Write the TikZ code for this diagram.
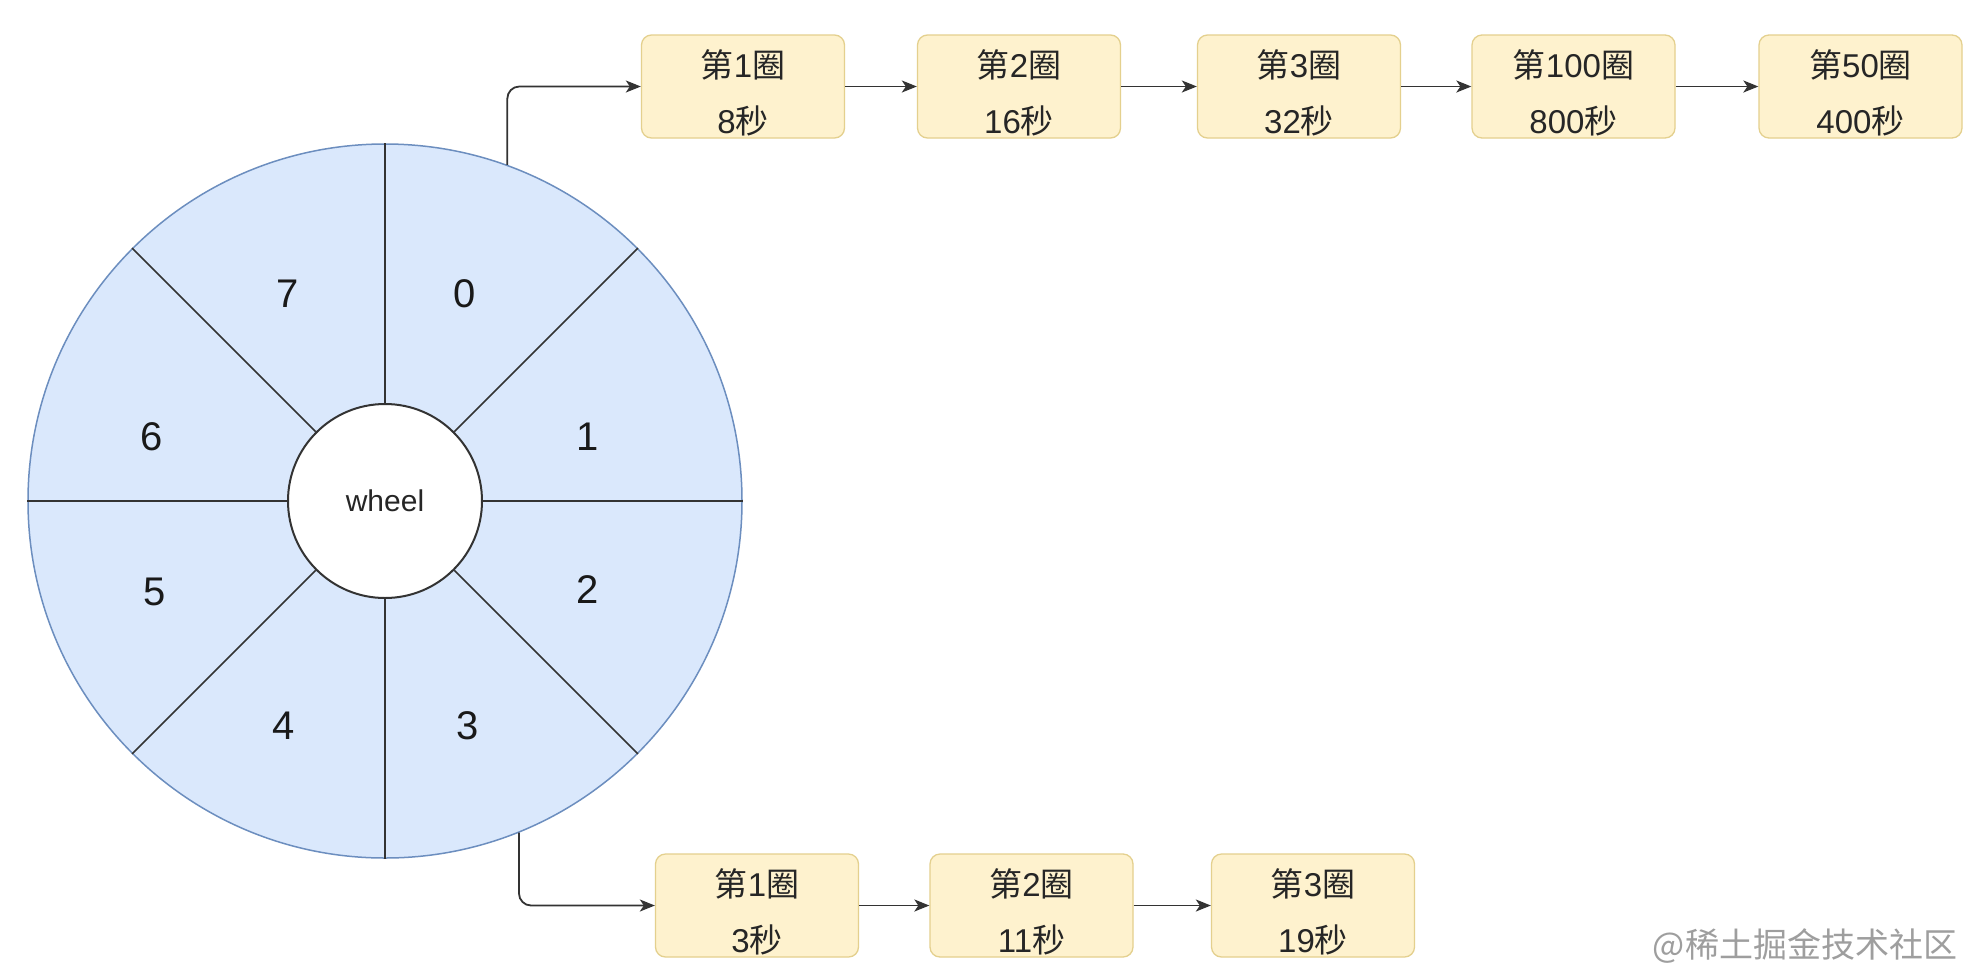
\documentclass[tikz,border=0pt]{standalone}
\usepackage{fontspec}
\setmainfont{Liberation Sans}
\newfontfamily\cjk{Noto Sans CJK SC}
\newcommand\myzh[1]{{\cjk #1}}
\usetikzlibrary{arrows.meta,calc}
\definecolor{wheelfill}{HTML}{DAE8FC}
\definecolor{wheelline}{HTML}{6C8EBF}
\definecolor{darkline}{HTML}{333333}
\definecolor{boxfill}{HTML}{FEF2CE}
\definecolor{boxline}{HTML}{E4D08E}
\definecolor{markgray}{HTML}{9E9E9E}
\tikzset{
  spoke/.style={draw=darkline, line width=1.6pt},
  digit/.style={font=\fontsize{40}{48}\selectfont, text=black!90},
  boxnode/.style={rectangle, rounded corners=10pt, draw=boxline, fill=boxfill,
    line width=1.3pt, minimum width=203pt, minimum height=103pt},
  boxtext/.style={align=center, font=\fontsize{33}{56}\selectfont, text=black!85, inner sep=0pt},
  arr/.style={draw=darkline, line width=1.8pt, -{Stealth[length=15pt,width=12pt,inset=4pt]}},
}
\begin{document}
\begin{tikzpicture}[x=1pt,y=-1pt]
\useasboundingbox (0,0) rectangle (1984,978);
\fill[white] (0,0) rectangle (1984,978);

% wheel
\node[circle, minimum size=714pt, inner sep=0pt, draw=wheelline, fill=wheelfill, line width=1.5pt] (outer) at (385,501) {};
\node[circle, minimum size=194pt, inner sep=0pt, draw=darkline, fill=white, line width=2pt,
      font=\fontsize{30}{36}\selectfont, text=black!85] (inner) at (385,501) {wheel};
\foreach \a in {0,45,...,315} \draw[spoke] (inner.\a) -- (outer.\a);

\node[digit] (d0) at (465,294) {0};
\node[digit] (d1) at (588,437) {1};
\node[digit] (d2) at (588,590) {2};
\node[digit] (d3) at (468,726) {3};
\node[digit] (d4) at (284,726) {4};
\node[digit] (d5) at (155,592) {5};
\node[digit] (d6) at (152,437) {6};
\node[digit] (d7) at (288,294) {7};

% top row
\node[boxnode] (t1) at (743,86.5) {};
\node[boxnode] (t2) at (1019,86.5) {};
\node[boxnode] (t3) at (1299,86.5) {};
\node[boxnode] (t4) at (1573.5,86.5) {};
\node[boxnode] (t5) at (1860.5,86.5) {};
\node[boxtext] (t1x) at (743,92.5) {\myzh{第}1\myzh{圈}\\8\myzh{秒}};
\node[boxtext] (t2x) at (1019,92.5) {\myzh{第}2\myzh{圈}\\16\myzh{秒}};
\node[boxtext] (t3x) at (1299,92.5) {\myzh{第}3\myzh{圈}\\32\myzh{秒}};
\node[boxtext] (t4x) at (1573.5,92.5) {\myzh{第}100\myzh{圈}\\800\myzh{秒}};
\node[boxtext] (t5x) at (1860.5,92.5) {\myzh{第}50\myzh{圈}\\400\myzh{秒}};

% bottom row
\node[boxnode] (c1) at (757,905.5) {};
\node[boxnode] (c2) at (1031.5,905.5) {};
\node[boxnode] (c3) at (1313,905.5) {};
\node[boxtext] (c1x) at (757,911.5) {\myzh{第}1\myzh{圈}\\3\myzh{秒}};
\node[boxtext] (c2x) at (1031.5,911.5) {\myzh{第}2\myzh{圈}\\11\myzh{秒}};
\node[boxtext] (c3x) at (1313,911.5) {\myzh{第}3\myzh{圈}\\19\myzh{秒}};

% connectors
\draw[arr, rounded corners=12pt] (outer.70.85) |- (t1.west);
\draw[arr] (t1.east) -- (t2.west);
\draw[arr] (t2.east) -- (t3.west);
\draw[arr] (t3.east) -- (t4.west);
\draw[arr] (t4.east) -- (t5.west);
\draw[arr, rounded corners=12pt] (outer.-68.1) |- (c1.west);
\draw[arr] (c1.east) -- (c2.west);
\draw[arr] (c2.east) -- (c3.west);

% watermark
\node[font=\cjk\fontsize{34}{40}\selectfont, text=markgray, inner sep=0pt] (mark) at (1805,946) {@稀土掘金技术社区};
\end{tikzpicture}
\end{document}
